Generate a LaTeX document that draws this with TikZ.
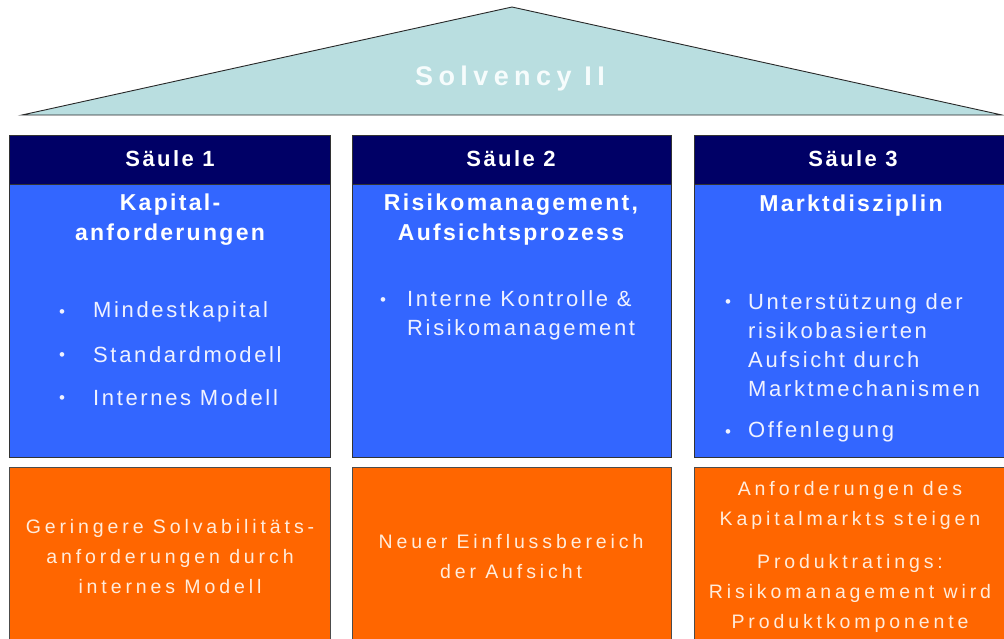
\documentclass[tikz,border=0pt]{standalone}
\usepackage{fontspec}
\setmainfont{Liberation Sans}
\newfontfamily\hfont[LetterSpace=11]{Liberation Sans}
\newfontfamily\tfont[LetterSpace=10]{Liberation Sans}
\newfontfamily\bfont[LetterSpace=12]{Liberation Sans}
\newfontfamily\ofont[LetterSpace=20]{Liberation Sans}
\newfontfamily\rfont[LetterSpace=20]{Liberation Sans}
\definecolor{roof}{RGB}{185,222,224}
\definecolor{roofline}{RGB}{40,40,40}
\definecolor{navy}{RGB}{0,0,102}
\definecolor{pblue}{RGB}{51,102,255}
\definecolor{porange}{RGB}{255,102,0}
\definecolor{rooftext}{RGB}{246,252,252}
\definecolor{btext}{RGB}{240,242,255}
\definecolor{otext}{RGB}{255,236,220}
\begin{document}
\begin{tikzpicture}[x=1pt,y=-1pt,
  hdr/.style={fill=navy,draw=black!80,line width=0.8pt},
  body/.style={fill=pblue,draw=black!80,line width=0.8pt},
  org/.style={fill=porange,draw=black!70,line width=0.8pt},
  htxt/.style={text=white,font=\hfont\bfseries\fontsize{22}{26}\selectfont,inner sep=0pt},
  ttxt/.style={text=white,font=\tfont\bfseries\fontsize{23}{30}\selectfont,inner sep=0pt,align=center},
  btxt/.style={text=btext,font=\bfont\fontsize{22}{29}\selectfont,inner sep=0pt,align=left,anchor=west},
  bul/.style={text=btext,font=\fontsize{17}{17}\selectfont,inner sep=0pt},
  otxt/.style={text=otext,font=\ofont\fontsize{19.5}{30}\selectfont,inner sep=0pt,align=center}]
\useasboundingbox (0,0) rectangle (1004,638);
\fill[white] (0,0) rectangle (1004,638);
% roof
\draw[fill=roof,draw=roofline,line width=0.9pt] (22,115) -- (512,7) -- (1002,115) -- cycle;
\node[text=rooftext,font=\rfont\bfseries\fontsize{27}{30}\selectfont,inner sep=0pt] (solv) at (510,79) {Solvency II};
% column 1
\draw[body] (9,184) rectangle (330,457);
\draw[hdr] (9,135) rectangle (330,184);
\draw[org] (9,467) rectangle (330,645);
\node[htxt] (h1) at (170,159) {Säule 1};
\node[ttxt] (t1) at (170,220) {Kapital-\\anforderungen};
\node[bul] (b1a) at (62,314) {•};
\node[btxt] (i1a) at (93,312) {Mindestkapital};
\node[bul] (b1b) at (62,357) {•};
\node[btxt] (i1b) at (93,355) {Standardmodell};
\node[bul] (b1c) at (62,400) {•};
\node[btxt] (i1c) at (93,398) {Internes Modell};
\node[otxt] (o1) at (170,557) {Geringere Solvabilitäts-\\anforderungen durch\\internes Modell};
% column 2
\draw[body] (352,184) rectangle (671,457);
\draw[hdr] (352,135) rectangle (671,184);
\draw[org] (352,467) rectangle (671,645);
\node[htxt] (h2) at (511,159) {Säule 2};
\node[ttxt] (t2) at (511,220) {Risikomanagement,\\Aufsichtsprozess};
\node[bul] (b2a) at (383,302) {•};
\node[btxt] (i2a) at (407,315) {Interne Kontrolle \&\\Risikomanagement};
\node[otxt] (o2) at (511,557) {Neuer Einflussbereich\\der Aufsicht};
% column 3
\draw[body] (694,184) rectangle (1010,457);
\draw[hdr] (694,135) rectangle (1010,184);
\draw[org] (694,467) rectangle (1010,645);
\node[htxt] (h3) at (853,159) {Säule 3};
\node[ttxt] (t3) at (851,206) {Marktdisziplin};
\node[bul] (b3a) at (728,304) {•};
\node[btxt] (i3a) at (748,345) {Unterstützung der\\risikobasierten\\Aufsicht durch\\Marktmechanismen};
\node[bul] (b3b) at (728,434) {•};
\node[btxt] (i3b) at (748,432) {Offenlegung};
\node[otxt] (o3a) at (850,505) {Anforderungen des\\Kapitalmarkts steigen};
\node[otxt] (o3b) at (850,593) {Produktratings:\\Risikomanagement wird\\Produktkomponente};
\end{tikzpicture}
\end{document}
